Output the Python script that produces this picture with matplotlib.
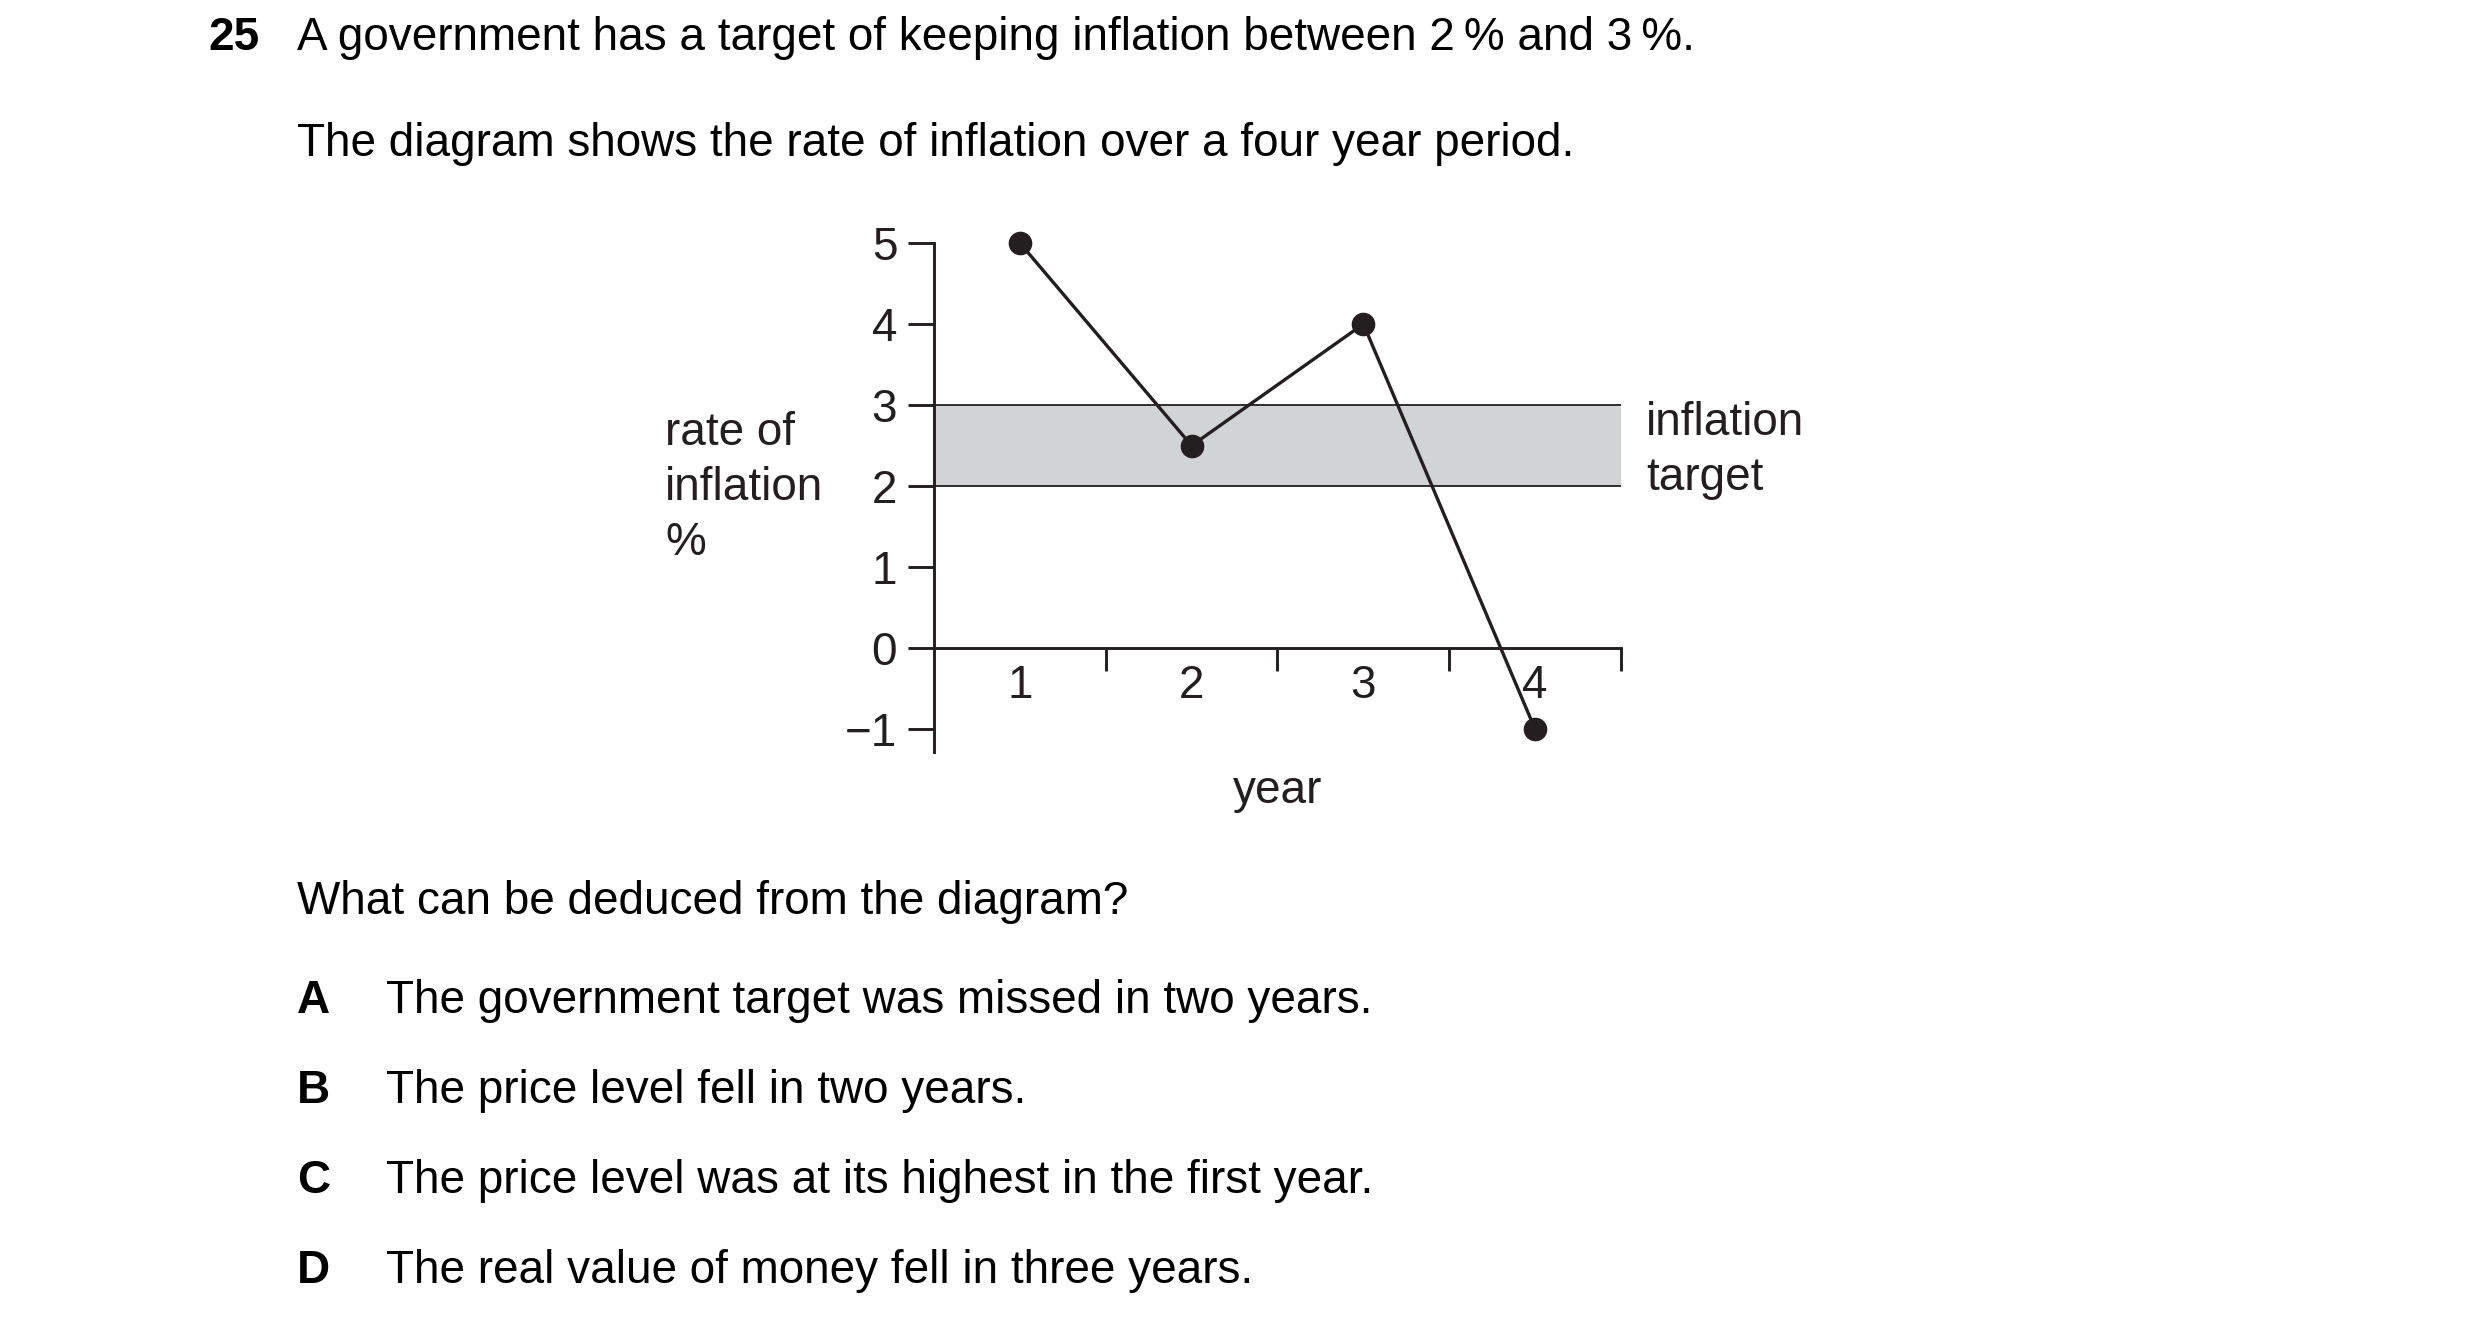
import matplotlib
matplotlib.use("Agg")
import matplotlib.pyplot as plt
from matplotlib.ticker import FixedLocator

plt.rcParams['font.family'] = ['Liberation Sans', 'DejaVu Sans']

# data
years = [1, 2, 3, 4]
inflation = [5, 2.5, 4, -1]
target_low = 2
target_high = 3
y_ticks = [-1, 0, 1, 2, 3, 4, 5]
y_labels = ['\u22121', '0', '1', '2', '3', '4', '5']

question_no = "25"
line1 = "A government has a target of keeping inflation between 2\u2009% and 3\u2009%."
line2 = "The diagram shows the rate of inflation over a four year period."
ask = "What can be deduced from the diagram?"
letters = ["A", "B", "C", "D"]
answers = ["The government target was missed in two years.",
           "The price level fell in two years.",
           "The price level was at its highest in the first year.",
           "The real value of money fell in three years."]

W, H = 2480, 1332
ink = '#231f20'
fs = 33

fig = plt.figure(figsize=(W / 100, H / 100), dpi=100)

def ftext(x, y, s, **kw):
    kw.setdefault('fontsize', fs)
    kw.setdefault('color', 'black')
    fig.text(x / W, 1 - y / H, s, va='baseline', ha=kw.pop('ha', 'left'), **kw)

# axes placed in pixel terms: x 0.5..4.5 -> 934..1621, y -1.28..5 -> 752..243
x0, x1 = 934, 1621
ytop, ybot = 243, 752
ax = fig.add_axes([x0 / W, 1 - ybot / H, (x1 - x0) / W, (ybot - ytop) / H])
ax.set_xlim(0.5, 4.5)
ax.set_ylim(-1.28, 5)
ax.patch.set_alpha(0)

# target band
ax.fill_between([0.5, 4.5], target_low, target_high, color='#d1d3d4', lw=0, zorder=1)
ax.hlines([target_low, target_high], 0.5, 4.5, color=ink, lw=1.3, zorder=2)

ax.plot(years, inflation, color=ink, lw=2.4, marker='o', markersize=16,
        clip_on=False, zorder=4)

for s in ['top', 'right']:
    ax.spines[s].set_visible(False)
ax.spines['bottom'].set_position(('data', 0))
for s in ['left', 'bottom']:
    ax.spines[s].set_linewidth(2.1)
    ax.spines[s].set_color(ink)

ax.set_yticks(y_ticks)
ax.set_yticklabels(y_labels)
ax.tick_params(axis='y', direction='out', length=18.5, width=2.1, color=ink,
               pad=8, labelsize=fs, labelcolor=ink)

ax.set_xticks(years)
ax.set_xticklabels([str(y) for y in years])
ax.xaxis.set_minor_locator(FixedLocator([1.5, 2.5, 3.5, 4.5]))
ax.tick_params(axis='x', which='major', length=0, pad=11, labelsize=fs, labelcolor=ink)
ax.tick_params(axis='x', which='minor', direction='out', length=16.5, width=2.1, color=ink)

# chart labels
for i, s in enumerate(["rate of", "inflation", "%"]):
    ftext(665, 445 + 55 * i, s, color=ink)
ftext(1646, 435, "inflation", color=ink)
ftext(1646, 490, "target", color=ink)
ftext((x0 + x1) / 2, 803, "year", color=ink, ha='center')

# question text
ftext(208, 50, question_no, fontweight='bold')
ftext(297, 50, line1)
ftext(297, 156, line2)
ftext(297, 914, ask)
for i, (l, a) in enumerate(zip(letters, answers)):
    ftext(297, 1013 + 90 * i, l, fontweight='bold')
    ftext(386, 1013 + 90 * i, a)

fig.savefig("out.png", dpi=100)
